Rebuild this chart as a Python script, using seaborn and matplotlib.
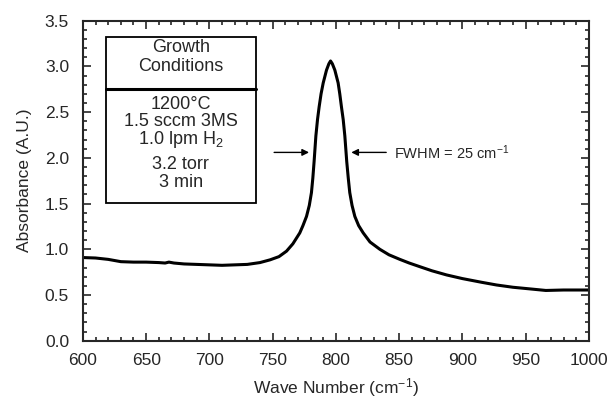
import matplotlib
matplotlib.use("Agg")
import matplotlib.pyplot as plt
import seaborn as sns
import pandas as pd
from matplotlib.ticker import MultipleLocator, FormatStrFormatter

wavenumber = [600, 610, 620, 630, 640, 650, 660, 665, 668, 672, 680, 690, 700, 710,
              720, 730, 740, 748, 755, 761, 766, 771.5, 774, 776.8, 779, 780.7, 781.8,
              782.8, 784.2, 785.5, 786.8, 788.3, 790, 792.6, 794.5, 795.8, 797.2,
              799.2, 801.8, 803.1, 804.4, 805.8, 807.1, 808.6, 809.8, 811, 812.8, 815,
              818, 821.6, 827, 834.8, 842, 850.6, 858, 866.4, 876, 887.5, 900, 915,
              927, 940, 955, 966, 980, 1000]
absorbance = [0.91, 0.905, 0.89, 0.865, 0.86, 0.86, 0.855, 0.85, 0.86, 0.85, 0.84, 0.835,
              0.83, 0.825, 0.83, 0.835, 0.855, 0.885, 0.92, 0.98, 1.06, 1.18, 1.26, 1.36,
              1.48, 1.62, 1.78, 1.96, 2.24, 2.42, 2.56, 2.70, 2.82, 2.96, 3.03, 3.06,
              3.03, 2.96, 2.82, 2.70, 2.56, 2.42, 2.24, 1.96, 1.78, 1.62, 1.48, 1.36,
              1.26, 1.18, 1.08, 1.00, 0.94, 0.89, 0.85, 0.81, 0.765, 0.72, 0.68, 0.64,
              0.61, 0.585, 0.565, 0.55, 0.555, 0.555]

box_title = ["Growth", "Conditions"]
box_lines = ["1200°C", "1.5 sccm 3MS", "1.0 lpm H$_2$", "3.2 torr", "3 min"]
fwhm_label = "FWHM = 25 cm$^{-1}$"

sns.set_style("ticks")
plt.rcParams['font.family'] = ['Liberation Sans', 'DejaVu Sans']
plt.rcParams['mathtext.default'] = 'regular'

df = pd.DataFrame({"x": wavenumber, "y": absorbance})

fig = plt.figure(figsize=(6.14, 3.99), dpi=100)
ax = fig.add_axes([0.135, 0.146, 0.824, 0.802])
sns.lineplot(data=df, x="x", y="y", ax=ax, color="black", linewidth=2.2, sort=False)

ax.set_xlim(600, 1000)
ax.set_ylim(0, 3.5)
ax.xaxis.set_major_locator(MultipleLocator(50))
ax.xaxis.set_minor_locator(MultipleLocator(10))
ax.yaxis.set_major_locator(MultipleLocator(0.5))
ax.yaxis.set_minor_locator(MultipleLocator(0.1))
ax.yaxis.set_major_formatter(FormatStrFormatter('%.1f'))
ax.tick_params(which='both', direction='in', top=True, right=True, labelsize=12.5, width=1.2)
ax.tick_params(axis='x', which='both', pad=9)
ax.tick_params(axis='y', which='both', pad=10)
ax.tick_params(which='major', length=6)
ax.tick_params(which='minor', length=3)
for s in ax.spines.values():
    s.set_linewidth(1.5)
    s.set_visible(True)

ax.set_xlabel("Wave Number (cm$^{-1}$)", fontsize=12.5)
ax.set_ylabel("Absorbance (A.U.)", fontsize=12.5)
ax.xaxis.set_label_coords(0.5, -0.112)
ax.yaxis.set_label_coords(-0.10, 0.5)

# Growth conditions box
ax.add_patch(plt.Rectangle((618, 1.51), 119, 1.81, fill=False, edgecolor='black', linewidth=1.3, zorder=3))
ax.plot([618, 737], [2.75, 2.75], color='black', linewidth=2.2, zorder=3)
cx = 677.5
for t, yy in zip(box_title, [3.21, 3.00]):
    ax.text(cx, yy, t, ha='center', va='center', fontsize=13)
for t, yy in zip(box_lines, [2.58, 2.40, 2.20, 1.93, 1.73]):
    ax.text(cx, yy, t, ha='center', va='center', fontsize=13)

# FWHM arrows
ax.annotate("", xy=(781, 2.06), xytext=(749, 2.06),
            arrowprops=dict(arrowstyle='-|>', color='black', lw=1.0, mutation_scale=10))
ax.annotate("", xy=(810, 2.06), xytext=(842, 2.06),
            arrowprops=dict(arrowstyle='-|>', color='black', lw=1.0, mutation_scale=10))
ax.text(846, 2.06, fwhm_label, ha='left', va='center', fontsize=10.5)

fig.savefig("out.png", dpi=100)
